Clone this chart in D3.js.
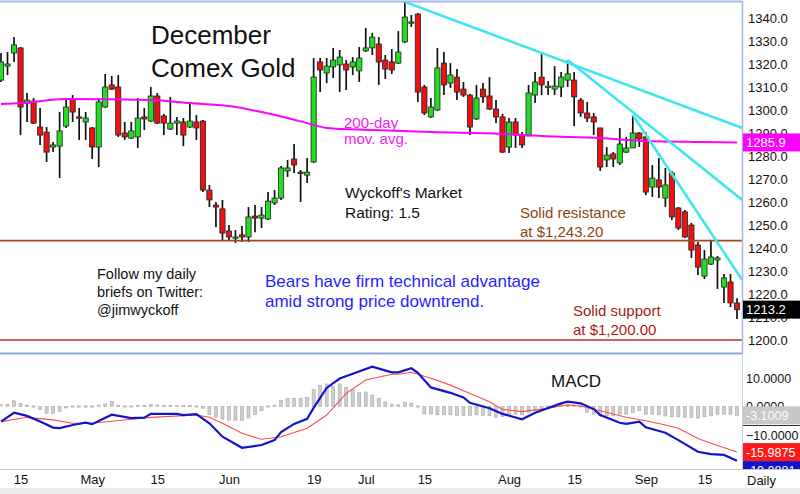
<!DOCTYPE html>
<html>
<head>
<meta charset="utf-8">
<script src="https://cdn.jsdelivr.net/npm/d3@7"></script>
<style>
  body { margin: 0; background: #fff; }
  svg { display: block; font-family: "Liberation Sans", Arial, sans-serif; }
</style>
</head>
<body>
<div id="chart"></div>
<script>
// December Comex gold, daily bars (index = trading day)
const opens = [1313.0,1319.1,1324.8,1327.0,1303.0,1303.9,1292.6,1290.4,1283.9,1284.3,
  1293.0,1304.8,1297.0,1294.8,1292.2,1283.9,1301.3,1310.9,1310.0,1290.0,
  1287.8,1288.3,1297.0,1295.2,1306.1,1297.4,1291.7,1294.3,1294.8,1292.6,
  1294.8,1295.2,1265.2,1258.7,1257.0,1247.4,1244.3,1245.7,1244.8,1253.9,
  1253.0,1252.6,1259.6,1261.7,1273.5,1278.7,1273.0,1271.7,1277.4,1320.9,
  1316.1,1318.7,1319.6,1320.0,1318.7,1317.0,1325.7,1327.0,1328.7,1321.7,
  1320.9,1320.4,1329.6,1337.8,1341.7,1310.0,1297.0,1300.0,1320.4,1311.7,
  1314.3,1309.1,1306.5,1296.1,1309.1,1306.1,1300.4,1297.0,1283.9,1294.8,
  1289.1,1288.7,1306.5,1314.3,1310.0,1309.1,1310.0,1313.0,1313.0,1304.3,
  1298.7,1297.0,1292.2,1278.3,1280.9,1277.0,1281.7,1283.5,1290.0,1288.3,
  1266.5,1269.6,1261.7,1272.6,1257.4,1255.7,1250.0,1241.3,1227.8,1233.0,
  1234.8,1223.0,1225.2,1216.1];
const highs = [1324.8,1325.2,1331.7,1327.4,1307.4,1305.2,1300.9,1292.6,1286.1,1299.1,
  1305.2,1306.5,1300.9,1299.1,1292.6,1305.2,1315.7,1314.8,1315.2,1294.8,
  1294.8,1305.2,1300.9,1310.0,1307.4,1298.3,1305.7,1297.0,1296.5,1303.5,
  1297.8,1295.7,1267.4,1260.0,1260.9,1250.0,1247.8,1249.6,1257.8,1258.7,
  1257.8,1264.3,1265.2,1275.7,1278.3,1285.2,1273.9,1279.1,1322.6,1322.6,
  1322.6,1327.0,1326.1,1321.7,1323.0,1327.4,1335.7,1333.5,1331.7,1323.9,
  1326.5,1334.3,1347.0,1341.3,1342.2,1310.9,1305.2,1327.0,1325.2,1320.4,
  1317.8,1312.2,1307.0,1310.9,1311.7,1314.3,1304.3,1298.3,1296.5,1296.5,
  1290.4,1310.9,1316.5,1324.3,1312.6,1319.1,1316.5,1321.7,1316.5,1305.2,
  1303.5,1298.7,1292.2,1283.9,1281.7,1292.2,1288.3,1297.8,1290.4,1290.4,
  1276.1,1279.1,1274.8,1273.5,1257.8,1256.5,1250.9,1242.6,1239.1,1243.0,
  1236.5,1228.7,1228.7,1218.1];
const lows = [1312.2,1315.2,1320.9,1289.1,1294.8,1293.9,1284.8,1277.4,1281.7,1270.4,
  1292.2,1294.8,1287.0,1287.0,1278.7,1275.2,1300.9,1308.7,1288.3,1287.0,
  1287.4,1283.5,1291.3,1294.8,1293.9,1289.1,1291.3,1289.1,1284.3,1292.2,
  1287.0,1264.3,1257.8,1249.1,1243.5,1243.5,1242.2,1242.6,1242.6,1246.9,
  1248.7,1252.2,1258.7,1260.9,1270.9,1272.6,1260.0,1268.3,1277.0,1307.8,
  1311.7,1313.9,1307.8,1308.7,1315.2,1312.2,1325.2,1323.9,1310.9,1313.5,
  1315.7,1320.0,1329.1,1336.1,1303.5,1297.8,1296.5,1299.6,1306.5,1309.6,
  1304.3,1305.7,1289.1,1295.7,1303.0,1300.0,1294.3,1281.3,1281.3,1283.5,
  1283.5,1288.7,1303.0,1306.5,1306.5,1306.5,1305.7,1310.0,1293.0,1297.0,
  1294.8,1289.1,1273.5,1275.2,1275.2,1276.1,1281.3,1283.5,1283.9,1263.0,
  1262.2,1261.7,1257.8,1252.2,1247.8,1244.3,1235.7,1228.3,1226.5,1232.6,
  1222.2,1216.1,1214.3,1209.1];
const closes = [1320.9,1320.0,1328.3,1301.3,1304.3,1294.3,1289.1,1281.7,1284.8,1290.9,
  1301.3,1299.1,1296.7,1296.5,1283.9,1303.5,1310.0,1309.1,1289.1,1288.3,
  1290.9,1296.5,1296.1,1306.1,1294.3,1294.3,1294.3,1295.2,1289.1,1295.2,
  1292.2,1265.2,1260.9,1257.8,1246.5,1244.8,1244.8,1244.8,1253.5,1253.0,
  1254.3,1260.4,1261.7,1274.8,1274.8,1276.1,1272.6,1273.0,1314.3,1317.4,
  1319.1,1321.7,1323.0,1317.4,1320.9,1322.6,1327.0,1331.7,1320.9,1317.8,
  1317.4,1325.2,1340.4,1338.3,1307.8,1298.7,1301.3,1318.3,1310.9,1315.2,
  1307.8,1306.5,1292.6,1305.2,1305.7,1300.4,1297.0,1281.7,1294.8,1289.1,
  1284.8,1307.4,1312.2,1310.9,1310.4,1310.4,1314.3,1315.7,1305.7,1298.7,
  1296.5,1294.8,1275.2,1280.4,1278.7,1285.2,1283.5,1290.0,1287.4,1264.3,
  1270.4,1266.5,1267.4,1253.5,1248.7,1244.8,1239.1,1231.7,1235.2,1236.1,
  1235.7,1227.0,1216.1,1213.2];

// 200-day moving average, read at selected bars
const maIdx = [0, 3, 10, 23, 29, 35, 40, 44, 47, 50, 57, 66, 77, 83, 92, 99, 107, 113];
const maVal = [1302.6,1303.0,1304.8,1304.3,1303.0,1301.7,1299.1,1296.5,1294.3,1292.2,
  1291.3,1290.4,1289.6,1288.7,1287.8,1286.5,1286.1,1285.9];

// MACD line and signal line, read at selected bars
const macdIdx = [0,2,4,6,8,9,11,13,14,17,20,22,23,27,28,30,32,34,37,40,42,43,45,47,48,49,50,52,54,57,
  60,61,63,64,66,69,71,72,75,77,80,82,86,87,89,91,92,95,96,98,99,102,104,107,109,111,113];
const macdVal = [-5.3,-2.2,-3.3,-5.3,-7.4,-7.6,-6.5,-5.7,-6.2,-2.9,-4.1,-3.9,-2.6,-2.6,-3.0,-2.7,-5.9,-10.6,-14.5,-13.5,-11.8,-9.0,-6.1,-4.3,-0.5,3.0,6.5,9.8,11.5,14.0,
  12.0,12.0,13.4,11.8,6.7,4.8,3.2,1.3,-0.6,-2.6,-4.5,-2.2,1.1,1.7,1.1,-0.9,-3.0,-5.7,-6.1,-5.3,-7.3,-9.2,-11.8,-15.9,-16.7,-17.0,-19.0];
const signalIdx = [0,4,8,11,14,20,23,30,32,34,37,40,43,47,50,53,56,60,61,63,66,69,72,75,77,80,84,87,89,92,96,99,102,104,107,109,113];
const signalVal = [-5.3,-3.8,-4.7,-5.9,-5.9,-4.5,-3.8,-3.0,-3.8,-5.9,-9.4,-11.5,-10.6,-7.6,-3.0,4.6,9.3,11.3,11.3,12.0,9.9,7.5,4.6,1.7,-1.0,-1.8,-0.6,0.5,0.2,-1.5,-3.8,-5.0,-6.5,-7.6,-11.2,-12.9,-15.99];
// MACD histogram, one value per bar
const histVal = [0.4,0.8,2.0,1.0,0.5,-0.2,-1.1,-2.4,-2.4,-1.7,
  -0.5,-0.2,-0.2,-0.2,-0.2,0.3,0.9,1.8,0.5,-0.2,
  -0.2,0.2,0.2,0.7,0.3,0.2,0.2,0.2,0.1,0.1,
  -0.1,-0.6,-2.9,-3.9,-4.4,-4.8,-4.8,-4.8,-4.0,-2.8,
  -1.5,-0.3,0.5,2.2,2.9,2.9,2.9,3.2,5.9,7.3,
  7.9,7.0,7.9,6.7,5.9,4.9,5.1,4.0,2.9,1.6,
  0.8,0.6,1.4,1.2,-0.2,-2.6,-2.6,-2.9,-2.9,-2.9,
  -3.1,-3.1,-3.1,-2.9,-3.1,-3.2,-3.8,-3.6,-2.7,-2.7,
  -2.9,-2.1,-1.5,-0.6,-0.3,0.2,0.8,0.8,0.3,-0.3,
  -2.1,-2.7,-3.3,-3.3,-3.3,-2.7,-2.7,-2.1,-1.5,-2.7,
  -2.7,-2.9,-3.3,-3.6,-3.6,-3.8,-3.8,-4.1,-3.6,-3.3,
  -2.7,-2.7,-2.7,-3.1];
const macdBadges = ["-3.1009", "-15.9875", "-19.0881"];

// Levels and trend lines
const resistance = 1243.20;
const support = 1200.00;
const trendStart = [[62, 1347.0], [87, 1321.7], [97, 1297.8]];
const trendEnd = [[113.8, 1292.2], [113.8, 1260.9], [113.8, 1226.1]];

// Axes
const priceTicks = d3.range(1200, 1341, 10);
const macdTicks = [-10, 0, 10];
const dateTickIdx = [3, 14, 24, 35, 48, 56, 65, 78, 88, 99, 108];
const dateTickLbl = ["15", "May", "15", "Jun", "19", "Jul", "15", "Aug", "15", "Sep", "15"];

const W = 800, H = 494;
const plotRight = 742;
const badgeH = 18;

const svg = d3.select("#chart").append("svg")
    .attr("width", W)
    .attr("height", H);

const x = d3.scaleLinear().domain([0, closes.length - 1]).range([1, 737]);
const y = d3.scaleLinear().domain([1200, 1340]).range([340, 18]);
const ym = d3.scaleLinear().domain([-10, 10]).range([435, 378]);

// clip regions
const defs = svg.append("defs");
defs.append("clipPath").attr("id", "clipPrice")
    .append("rect").attr("x", 0).attr("y", 2).attr("width", plotRight).attr("height", 350);
defs.append("clipPath").attr("id", "clipMacd")
    .append("rect").attr("x", 0).attr("y", 356).attr("width", plotRight).attr("height", 113);
defs.append("clipPath").attr("id", "clipMacdAxis")
    .append("rect").attr("x", plotRight).attr("y", 356).attr("width", W - plotRight).attr("height", 113);

// bottom grey strip
svg.append("rect").attr("x", 0).attr("y", 488).attr("width", W).attr("height", 6).attr("fill", "#eeeeee");

// ---------- price panel ----------
const pg = svg.append("g").attr("clip-path", "url(#clipPrice)");

const candles = closes.map((c, i) => ({ i: i, o: opens[i], h: highs[i], l: lows[i], c: c }));

pg.selectAll(".wick")
    .data(candles)
    .join("line")
    .attr("class", "wick")
    .attr("x1", d => x(d.i)).attr("x2", d => x(d.i))
    .attr("y1", d => y(d.h)).attr("y2", d => y(d.l))
    .attr("stroke", "#111")
    .attr("stroke-width", 1.7);

pg.selectAll(".body")
    .data(candles)
    .join("rect")
    .attr("class", "body")
    .attr("x", d => x(d.i) - 2.6)
    .attr("width", 5.2)
    .attr("y", d => y(Math.max(d.o, d.c)))
    .attr("height", d => Math.max(1.3, Math.abs(y(d.o) - y(d.c))))
    .attr("fill", d => d.c >= d.o ? "#22dd22" : "#ee1111")
    .attr("stroke", "#222")
    .attr("stroke-width", 0.8);

// 200-day moving average
pg.append("path")
    .datum(maIdx.map((d, i) => [d, maVal[i]]))
    .attr("fill", "none")
    .attr("stroke", "#ff00ff")
    .attr("stroke-width", 2)
    .attr("d", d3.line().x(d => x(d[0])).y(d => y(d[1])).curve(d3.curveMonotoneX));

// horizontal levels
pg.append("line")
    .attr("x1", 0).attr("x2", plotRight)
    .attr("y1", y(resistance)).attr("y2", y(resistance))
    .attr("stroke", "#9c4a1c").attr("stroke-width", 1.6);
pg.append("line")
    .attr("x1", 0).attr("x2", plotRight)
    .attr("y1", y(support)).attr("y2", y(support))
    .attr("stroke", "#c42a2a").attr("stroke-width", 1.6);

// cyan trend lines
pg.selectAll(".trend")
    .data(trendStart.map((s, i) => [s, trendEnd[i]]))
    .join("line")
    .attr("class", "trend")
    .attr("x1", d => x(d[0][0])).attr("y1", d => y(d[0][1]))
    .attr("x2", d => x(d[1][0])).attr("y2", d => y(d[1][1]))
    .attr("stroke", "#3fe6f0")
    .attr("stroke-width", 2.6);

// frame of price panel
svg.append("line").attr("x1", 0).attr("x2", plotRight).attr("y1", 1.5).attr("y2", 1.5)
    .attr("stroke", "#a3b6e6").attr("stroke-width", 2);
svg.append("line").attr("x1", plotRight + 0.5).attr("x2", plotRight + 0.5).attr("y1", 1).attr("y2", 354)
    .attr("stroke", "#a3b6e6").attr("stroke-width", 1.5);
svg.append("line").attr("x1", 0).attr("x2", plotRight).attr("y1", 353.5).attr("y2", 353.5)
    .attr("stroke", "#8ea6dc").attr("stroke-width", 2);

// right price axis
const priceAxis = svg.append("g")
    .attr("transform", `translate(${plotRight},0)`)
    .call(d3.axisRight(y).tickValues(priceTicks).tickFormat(d3.format(".1f")).tickSize(0).tickPadding(6));
priceAxis.select(".domain").remove();
priceAxis.selectAll("text").style("font-size", "13px").attr("fill", "#111");

// ---------- MACD panel ----------
const mg = svg.append("g").attr("clip-path", "url(#clipMacd)");

mg.selectAll(".hist")
    .data(histVal)
    .join("rect")
    .attr("class", "hist")
    .attr("x", (d, i) => x(i) - 1.5)
    .attr("width", 3)
    .attr("y", d => Math.min(ym(d), ym(0)) - (Math.abs(ym(d) - ym(0)) < 1.2 ? 0.6 : 0))
    .attr("height", d => Math.max(1.2, Math.abs(ym(d) - ym(0))))
    .attr("fill", "#cfcfcf")
    .attr("stroke", "#a6a6a6")
    .attr("stroke-width", 0.6);

mg.append("path")
    .datum(signalIdx.map((d, i) => [d, signalVal[i]]))
    .attr("fill", "none")
    .attr("stroke", "#ff4a4a")
    .attr("stroke-width", 1.1)
    .attr("d", d3.line().x(d => x(d[0])).y(d => ym(d[1])));

mg.append("path")
    .datum(macdIdx.map((d, i) => [d, macdVal[i]]))
    .attr("fill", "none")
    .attr("stroke", "#1414c8")
    .attr("stroke-width", 2.2)
    .attr("d", d3.line().x(d => x(d[0])).y(d => ym(d[1])));

svg.append("text")
    .attr("x", 576).attr("y", 387)
    .attr("text-anchor", "middle")
    .style("font-size", "17px")
    .attr("fill", "#111")
    .text("MACD");

svg.append("line").attr("x1", plotRight + 0.5).attr("x2", plotRight + 0.5).attr("y1", 355).attr("y2", 469)
    .attr("stroke", "#c4cfec").attr("stroke-width", 1);
svg.append("line").attr("x1", 0).attr("x2", W).attr("y1", 469.5).attr("y2", 469.5)
    .attr("stroke", "#c8c8c8").attr("stroke-width", 1);

const macdAxis = svg.append("g")
    .attr("transform", `translate(${plotRight},0)`)
    .call(d3.axisRight(ym).tickValues(macdTicks).tickFormat(d3.format(".4f")).tickSize(0).tickPadding(4));
macdAxis.select(".domain").remove();
macdAxis.selectAll("text").style("font-size", "12.5px").attr("fill", "#111");

// ---------- date axis ----------
const dateAxis = svg.append("g")
    .attr("transform", "translate(0,469)")
    .call(d3.axisBottom(x).tickValues(dateTickIdx).tickFormat((d, i) => dateTickLbl[i]).tickSize(0).tickPadding(6));
dateAxis.select(".domain").remove();
dateAxis.selectAll("text").style("font-size", "13px").attr("fill", "#111");

svg.append("text")
    .attr("x", 747).attr("y", 484.5)
    .style("font-size", "13px")
    .attr("fill", "#111")
    .text("Daily");

// ---------- value badges on the right ----------
function badge(yc, fill, label, textFill, size, clip) {
    const g = svg.append("g");
    if (clip) g.attr("clip-path", clip);
    g.append("rect")
        .attr("x", plotRight + 1).attr("y", yc - badgeH / 2)
        .attr("width", W - plotRight - 1).attr("height", badgeH)
        .attr("fill", fill);
    g.append("text")
        .attr("x", plotRight + 4).attr("y", yc + 4.5)
        .style("font-size", size + "px")
        .attr("fill", textFill)
        .text(label);
}

badge(y(maVal[maVal.length - 1]), "#ff00ff", d3.format(".1f")(maVal[maVal.length - 1]), "#fff", 13);
badge(y(closes[closes.length - 1]), "#000", d3.format(".1f")(closes[closes.length - 1]), "#fff", 13);
badge(ym(histVal[histVal.length - 1]), "#c8c8c8", macdBadges[0], "#fff", 12.5, "url(#clipMacdAxis)");
svg.append("line").attr("x1", plotRight + 1).attr("x2", W).attr("y1", 425.5).attr("y2", 425.5)
    .attr("stroke", "#333").attr("stroke-width", 1);
// MACD badge is pushed below the signal badge, so it shows only partly
const sigY = ym(signalVal[signalVal.length - 1]);
badge(Math.max(ym(macdVal[macdVal.length - 1]), sigY + badgeH), "#1414c8", macdBadges[2], "#fff", 12.5, "url(#clipMacdAxis)");
badge(sigY, "#ff1a1a", macdBadges[1], "#fff", 12.5, "url(#clipMacdAxis)");

// ---------- annotations ----------
function note(lines, x0, y0, lh, size, color) {
    const t = svg.append("text")
        .attr("x", x0).attr("y", y0)
        .style("font-size", size + "px")
        .attr("fill", color);
    lines.forEach((s, i) => {
        t.append("tspan").attr("x", x0).attr("y", y0 + i * lh).text(s);
    });
}

note(["December", "Comex Gold"], 151, 44, 33, 26, "#111");
note(["200-day", "mov. avg."], 344, 128, 16, 15, "#ee22ee");
note(["Wyckoff's Market", "Rating: 1.5"], 345, 198, 19.5, 15.5, "#111");
note(["Solid resistance", "at $1,243.20"], 520, 218, 18.5, 15, "#8b4513");
note(["Solid support", "at $1,200.00"], 573, 316, 18.5, 15, "#a31c1c");
note(["Follow my daily", "briefs on Twitter:", "@jimwyckoff"], 97, 279, 18, 14.5, "#111");
note(["Bears have firm technical advantage", "amid strong price downtrend."], 265, 287, 20, 17, "#1f1fff");
</script>
</body>
</html>
